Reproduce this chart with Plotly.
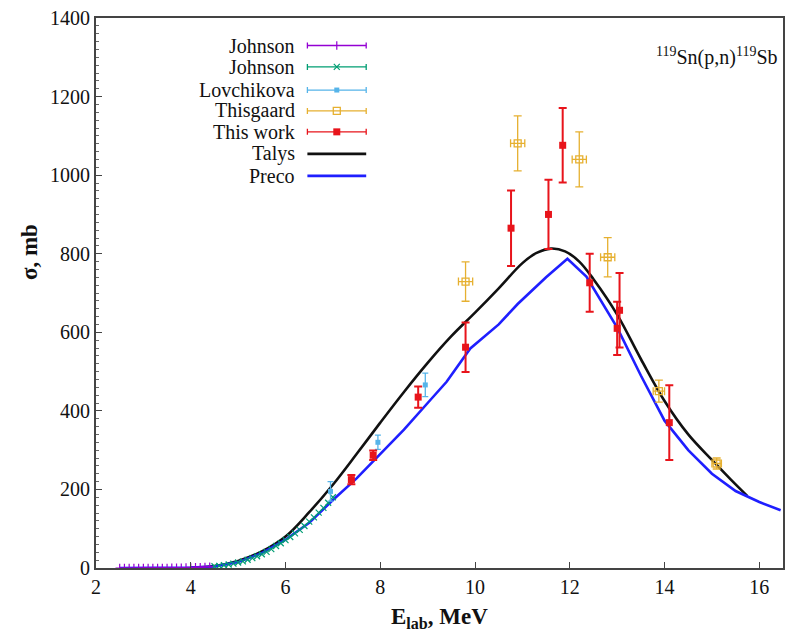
import plotly.graph_objects as go

# ---- measured cross sections, 119Sn(p,n)119Sb ----
johnson1_e = [2.5, 2.6, 2.7, 2.8, 2.9, 3.0, 3.1, 3.2, 3.3, 3.4, 3.5, 3.6, 3.7, 3.8, 3.9,
              4.0, 4.1, 4.2, 4.3, 4.4]
johnson1_s = [0.0, 0.0, 0.0, 0.0, 0.0, 0.1, 0.1, 0.2, 0.2, 0.3, 0.4, 0.5, 0.7, 0.9, 1.1,
              1.4, 1.8, 2.3, 2.9, 3.6]

johnson2_e = [4.5, 4.6, 4.7, 4.8, 4.9, 5.0, 5.1, 5.2, 5.3, 5.4, 5.5, 5.6, 5.7, 5.8, 5.9,
              6.0, 6.1, 6.2, 6.3, 6.4, 6.5, 6.6, 6.7, 6.8, 6.9, 7.0]
johnson2_s = [4.5, 5.5, 7, 9, 11, 14, 17, 21, 25, 30, 35, 41, 48, 56, 63,
              71, 79, 88, 97, 107, 118, 129, 141, 153, 166, 180]

lovch_e = [6.95, 7.95, 8.95]
lovch_s = [195, 320, 466]
lovch_err = [25, 18, 30]

thisg_e = [9.8, 10.9, 12.2, 12.8, 13.88, 15.1]
thisg_s = [729, 1081, 1040, 791, 450, 266]
thisg_err = [50, 70, 70, 50, 28, 14]
thisg_eerr = [0.15, 0.15, 0.15, 0.15, 0.12, 0.1]

work_e = [7.39, 7.85, 8.8, 9.8, 10.76, 11.55, 11.85, 12.42, 13.05, 13.0, 14.1]
work_s = [225, 287, 435, 562, 865, 900, 1076, 726, 656, 610, 370]
work_err = [12, 12, 27, 63, 96, 88, 95, 74, 95, 68, 95]

# ---- model calculations ----
talys_e = [4.0, 4.5, 5.0, 5.5, 6.0, 6.5, 7.0, 7.5, 8.0, 8.5, 9.0, 9.5, 10.0, 10.5,
           11.0, 11.3, 11.6, 11.9, 12.2, 12.5, 13.0, 13.5, 14.0, 14.5, 15.0, 15.4, 15.75]
talys_s = [1, 5, 18, 42, 80, 142, 212, 290, 370, 448, 522, 590, 650, 712,
           776, 802, 813, 806, 780, 735, 645, 532, 425, 340, 275, 225, 183]

preco_e = [2.5, 3.0, 3.5, 4.0, 4.5, 5.0, 5.5, 6.0, 6.5, 7.0, 7.5, 8.0, 8.5, 9.0,
           9.4, 9.9, 10.5, 10.9, 11.5, 11.95, 12.35, 13.0, 13.5, 14.0, 14.5, 15.0, 15.5,
           16.0, 16.45]
preco_s = [0, 0, 0.3, 1, 4, 15, 38, 72, 115, 173, 228, 290, 352, 420,
           474, 559, 620, 672, 740, 787, 742, 612, 490, 375, 300, 240, 196,
           168, 147]

C_JOHN1 = "#9400d3"
C_JOHN2 = "#009e73"
C_LOVCH = "#56b4e9"
C_THISG = "#e6b030"
C_WORK = "#e8141b"
C_TALYS = "#111111"
C_PRECO = "#1f1fff"

SERIF = "Liberation Serif"

fig = go.Figure()

fig.add_trace(go.Scatter(x=talys_e, y=talys_s, mode="lines", line=dict(color=C_TALYS, width=2.6, shape="spline"),
                         showlegend=False))
fig.add_trace(go.Scatter(x=preco_e, y=preco_s, mode="lines", line=dict(color=C_PRECO, width=2.6),
                         showlegend=False))

fig.add_trace(go.Scatter(x=johnson1_e, y=johnson1_s, mode="markers",
                         marker=dict(symbol="cross-thin", size=6, line=dict(color=C_JOHN1, width=1.2)),
                         showlegend=False))
fig.add_trace(go.Scatter(x=johnson2_e, y=johnson2_s, mode="markers",
                         marker=dict(symbol="x-thin", size=6, line=dict(color=C_JOHN2, width=1.2)),
                         showlegend=False))
fig.add_trace(go.Scatter(x=lovch_e, y=lovch_s, mode="markers",
                         marker=dict(symbol="square", size=5, color=C_LOVCH),
                         error_y=dict(type="data", array=lovch_err, color=C_LOVCH, thickness=1.3, width=3),
                         showlegend=False))
fig.add_trace(go.Scatter(x=thisg_e, y=thisg_s, mode="markers",
                         marker=dict(symbol="square-open", size=7, color=C_THISG, line=dict(width=1.3)),
                         error_y=dict(type="data", array=thisg_err, color=C_THISG, thickness=1.3, width=4),
                         error_x=dict(type="data", array=thisg_eerr, color=C_THISG, thickness=1.3, width=4),
                         showlegend=False))
fig.add_trace(go.Scatter(x=work_e, y=work_s, mode="markers",
                         marker=dict(symbol="square", size=7, color=C_WORK),
                         error_y=dict(type="data", array=work_err, color=C_WORK, thickness=2, width=4),
                         showlegend=False))

# ---- key (text right-aligned, sample to the right) on an overlay axis in [0,1] ----
key_names = ["Johnson", "Johnson", "Lovchikova", "Thisgaard", "This work", "Talys", "Preco"]
key_rows = [0.950, 0.911, 0.869, 0.831, 0.793, 0.753, 0.713]
key_text_x = 0.292
key_sample_x = 0.3505
key_half = 0.0428

key_markers = [
    dict(symbol="cross-thin", size=6, line=dict(color=C_JOHN1, width=1.2)),
    dict(symbol="x-thin", size=6, line=dict(color=C_JOHN2, width=1.2)),
    dict(symbol="square", size=5, color=C_LOVCH),
    dict(symbol="square-open", size=7, color=C_THISG, line=dict(width=1.3)),
    dict(symbol="square", size=7, color=C_WORK),
]
key_colors = [C_JOHN1, C_JOHN2, C_LOVCH, C_THISG, C_WORK]
for i, mk in enumerate(key_markers):
    fig.add_trace(go.Scatter(x=[key_sample_x], y=[key_rows[i]], mode="markers", marker=mk,
                             error_x=dict(type="constant", value=key_half, color=key_colors[i],
                                          thickness=1.3, width=3),
                             xaxis="x2", yaxis="y2", showlegend=False, hoverinfo="skip"))
for i, col in [(5, C_TALYS), (6, C_PRECO)]:
    fig.add_trace(go.Scatter(x=[key_sample_x - key_half, key_sample_x + key_half], y=[key_rows[i]] * 2,
                             mode="lines", line=dict(color=col, width=2.6),
                             xaxis="x2", yaxis="y2", showlegend=False, hoverinfo="skip"))

annotations = []
for name, yy in zip(key_names, key_rows):
    annotations.append(dict(x=key_text_x, y=yy, xref="paper", yref="paper", text=name,
                            showarrow=False, xanchor="right", yanchor="middle",
                            font=dict(family=SERIF, size=20, color="#111111")))

annotations.append(dict(x=0.995, y=0.930, xref="paper", yref="paper",
                        text="<sup>119</sup>Sn(p,n)<sup>119</sup>Sb", showarrow=False,
                        xanchor="right", yanchor="middle",
                        font=dict(family=SERIF, size=20, color="#111111")))

annotations.append(dict(x=0.5, y=-0.09, xref="paper", yref="paper",
                        text="<b>E<sub>lab</sub>, MeV</b>", showarrow=False,
                        xanchor="center", yanchor="middle",
                        font=dict(family=SERIF, size=23, color="#111111")))
annotations.append(dict(x=-0.097, y=0.575, xref="paper", yref="paper",
                        text="<b>σ, mb</b>", showarrow=False, textangle=-90,
                        xanchor="center", yanchor="middle",
                        font=dict(family=SERIF, size=23, color="#111111")))

fig.update_layout(
    width=790, height=634,
    margin=dict(l=96, r=5, t=18, b=66),
    paper_bgcolor="white", plot_bgcolor="white",
    showlegend=False,
    annotations=annotations,
    font=dict(family=SERIF),
    xaxis=dict(range=[2, 16.5], dtick=2, tick0=2, showgrid=False, zeroline=False,
               showline=True, linecolor="#444444", linewidth=1.8, mirror=True,
               ticks="inside", ticklen=6, tickcolor="#444444",
               tickfont=dict(family=SERIF, size=20, color="#111111")),
    yaxis=dict(range=[0, 1400], dtick=200, showgrid=False, zeroline=False,
               showline=True, linecolor="#444444", linewidth=1.8, mirror=True,
               ticks="inside", ticklen=6, tickcolor="#444444",
               minor=dict(dtick=20, ticks="inside", ticklen=3, tickcolor="#666666"),
               tickfont=dict(family=SERIF, size=20, color="#111111")),
    xaxis2=dict(overlaying="x", range=[0, 1], visible=False, fixedrange=True),
    yaxis2=dict(overlaying="y", range=[0, 1], visible=False, fixedrange=True),
)

fig.write_html("out.html")
